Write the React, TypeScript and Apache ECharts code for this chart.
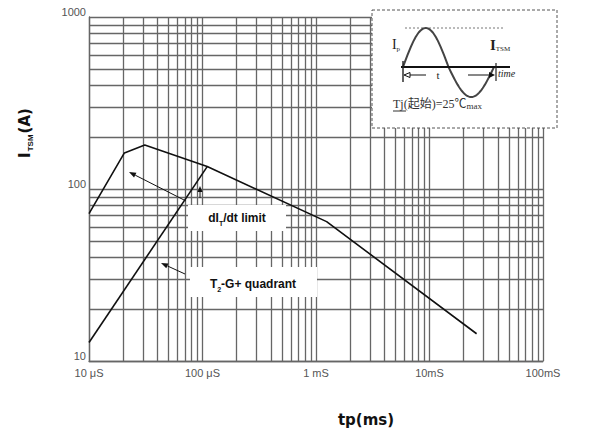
import React, { useEffect, useRef } from "react";
import * as echarts from "echarts";

// Pulse width tp (ms) and surge current ITSM (A)
const tpDidtLimit = [0.01, 0.0205, 0.031, 0.11, 1.24, 26];
const itsmDidtLimit = [72, 162, 180, 135, 64.6, 14.4];
const tpQuadrant = [0.01, 0.11];
const itsmQuadrant = [12.8, 135];
const xTickLabels = ["10 μS", "100 μS", "1 mS", "10mS", "100mS"];
const yTickLabels = ["10", "100", "1000"];
const xDecades = [0.01, 0.1, 1, 10];
const yDecades = [10, 100];
const minorSteps = [1, 2, 3, 4, 5, 6, 7, 8, 9];

const SANS = "Liberation Sans, Arial, sans-serif";
const WIDE = "DejaVu Sans, sans-serif";
const SERIF = "Liberation Serif, Noto Sans CJK SC, serif";

function arrow(x1: number, y1: number, x2: number, y2: number, head = 7, w = 2.6, filled = true) {
  const ang = Math.atan2(y2 - y1, x2 - x1);
  const c = Math.cos(ang), s = Math.sin(ang);
  const bx = x2 - head * c, by = y2 - head * s;
  const px = -s * w, py = c * w;
  return [
    { type: "line", z: 100, shape: { x1, y1, x2: bx, y2: by }, style: { stroke: "#111", lineWidth: 1 } },
    {
      type: "polygon", z: 100,
      shape: { points: [[x2, y2], [bx + px, by + py], [bx - px, by - py]] },
      style: filled ? { fill: "#111" } : { fill: "#fff", stroke: "#111", lineWidth: 1 },
    },
  ];
}

export default function App() {
  const ref = useRef<HTMLDivElement>(null);
  useEffect(() => {
    if (!ref.current) return;
    const chart = echarts.init(ref.current, null, { renderer: "svg" });

    const vLines: any[] = [];
    xDecades.forEach((d) => minorSteps.forEach((k) => vLines.push({ xAxis: d * k })));
    vLines.push({ xAxis: 100 });
    const hLines: any[] = [];
    yDecades.forEach((d) => minorSteps.forEach((k) => hLines.push({ yAxis: d * k })));
    hLines.push({ yAxis: 1000 });

    // inset sine wave (illustration)
    const sinePts: number[][] = [];
    for (let i = 0; i <= 80; i++) {
      const t = i / 80;
      const sv = Math.sin(2 * Math.PI * t);
      sinePts.push([403 + 91 * t, 67 - (sv > 0 ? 39 : 30) * sv]);
    }

    const graphics: any[] = [
      // label boxes
      { type: "rect", z: 90, shape: { x: 188, y: 205, width: 98, height: 26 }, style: { fill: "#fff" } },
      { type: "rect", z: 90, shape: { x: 190, y: 267, width: 127, height: 30 }, style: { fill: "#fff" } },
      {
        type: "text", z: 100, x: 237, y: 218,
        style: {
          text: "{b|dI}{s|T}{b|/dt limit}", align: "center", verticalAlign: "middle",
          rich: {
            b: { fontFamily: SANS, fontWeight: "bold", fontSize: 12, fill: "#111", verticalAlign: "bottom" },
            s: { fontFamily: SANS, fontWeight: "bold", fontSize: 7, fill: "#111", verticalAlign: "bottom", padding: [0, 0, -3, 0] },
          },
        },
      },
      {
        type: "text", z: 100, x: 253, y: 284,
        style: {
          text: "{b|T}{s|2}{b|-G+ quadrant}", align: "center", verticalAlign: "middle",
          rich: {
            b: { fontFamily: SANS, fontWeight: "bold", fontSize: 12, fill: "#111", verticalAlign: "bottom" },
            s: { fontFamily: SANS, fontWeight: "bold", fontSize: 7, fill: "#111", verticalAlign: "bottom", padding: [0, 0, -3, 0] },
          },
        },
      },
      ...arrow(186, 201, 129, 172),
      ...arrow(185, 274, 161, 263),
      ...arrow(200, 198, 200, 186, 6, 2.5),
      // axis titles
      {
        type: "text", z: 100, x: 25, y: 133, rotation: Math.PI / 2,
        style: {
          text: "{b|I}{s|TSM}{b|(A)}", align: "center", verticalAlign: "middle",
          rich: {
            b: { fontFamily: WIDE, fontWeight: "bold", fontSize: 15, fill: "#111", verticalAlign: "bottom" },
            s: { fontFamily: SANS, fontWeight: "bold", fontSize: 8, fill: "#111", verticalAlign: "bottom", padding: [0, 1, -2, 1] },
          },
        },
      },
      {
        type: "text", z: 100, x: 366, y: 420,
        style: { text: "tp(ms)", align: "center", verticalAlign: "middle", fontFamily: WIDE, fontWeight: "bold", fontSize: 15, fill: "#111" },
      },
      // inset
      { type: "rect", z: 95, shape: { x: 372, y: 10, width: 185, height: 118 }, style: { fill: "#fff", stroke: "#555", lineWidth: 1, lineDash: [3, 2] } },
      { type: "line", z: 100, shape: { x1: 405, y1: 28, x2: 505, y2: 28 }, style: { stroke: "#777", lineWidth: 1, lineDash: [2, 2] } },
      { type: "polyline", z: 100, shape: { points: sinePts }, style: { stroke: "#444", lineWidth: 2, fill: null } },
      { type: "line", z: 101, shape: { x1: 401, y1: 67, x2: 510, y2: 67 }, style: { stroke: "#111", lineWidth: 2.2 } },
      { type: "line", z: 101, shape: { x1: 403, y1: 61, x2: 403, y2: 82 }, style: { stroke: "#222", lineWidth: 1.4 } },
      { type: "line", z: 101, shape: { x1: 496, y1: 63, x2: 496, y2: 81 }, style: { stroke: "#222", lineWidth: 1.2 } },
      ...arrow(426, 75, 404, 75, 6, 2.5, false),
      ...arrow(468, 75, 495, 75, 6, 3),
      { type: "text", z: 101, x: 438, y: 75, style: { text: "t", align: "center", verticalAlign: "middle", fontFamily: SERIF, fontSize: 11, fill: "#222" } },
      { type: "text", z: 101, x: 498, y: 73, style: { text: "time", align: "left", verticalAlign: "middle", fontFamily: SERIF, fontStyle: "italic", fontSize: 10, fill: "#222" } },
      {
        type: "text", z: 101, x: 396, y: 44,
        style: {
          text: "{b|I}{s|p}", align: "center", verticalAlign: "middle",
          rich: {
            b: { fontFamily: SERIF, fontSize: 14, fill: "#222", verticalAlign: "bottom" },
            s: { fontFamily: SERIF, fontSize: 7, fill: "#222", verticalAlign: "bottom", padding: [0, 0, -2, 0] },
          },
        },
      },
      {
        type: "text", z: 101, x: 500, y: 45,
        style: {
          text: "{b|I}{s|TSM}", align: "center", verticalAlign: "middle",
          rich: {
            b: { fontFamily: SERIF, fontSize: 15, fontWeight: "bold", fill: "#222", verticalAlign: "bottom" },
            s: { fontFamily: SERIF, fontSize: 7, fill: "#222", verticalAlign: "bottom" },
          },
        },
      },
      {
        type: "text", z: 101, x: 393, y: 104,
        style: {
          text: "{a|Tj(起始)=25℃}{m|max}", align: "left", verticalAlign: "middle",
          rich: {
            a: { fontFamily: SERIF, fontSize: 12, fill: "#333", verticalAlign: "bottom" },
            m: { fontFamily: SERIF, fontSize: 9, fill: "#333", verticalAlign: "bottom" },
          },
        },
      },
      { type: "line", z: 101, shape: { x1: 393, y1: 111, x2: 406, y2: 111 }, style: { stroke: "#333", lineWidth: 1 } },
    ];

    const xLabel = (v: number) => {
      const i = Math.round(Math.log10(v)) + 2;
      return xTickLabels[i] ?? "";
    };
    const yLabel = (v: number) => {
      const i = Math.round(Math.log10(v)) - 1;
      return yTickLabels[i] ?? "";
    };

    chart.setOption({
      animation: false,
      backgroundColor: "#fff",
      grid: { left: 89, top: 17, right: 46, bottom: 76, containLabel: false },
      xAxis: {
        type: "log", logBase: 10, min: 0.01, max: 100,
        axisLine: { show: true, lineStyle: { color: "#666", width: 1.3 } },
        axisTick: { show: false },
        splitLine: { show: false },
        minorTick: { show: false },
        axisLabel: { formatter: xLabel, fontFamily: SANS, fontSize: 11, color: "#555", margin: 6, showMinLabel: true, showMaxLabel: true },
      },
      yAxis: {
        type: "log", logBase: 10, min: 10, max: 1000,
        axisLine: { show: true, lineStyle: { color: "#666", width: 1.3 } },
        axisTick: { show: false },
        splitLine: { show: false },
        minorTick: { show: false },
        axisLabel: { formatter: yLabel, fontFamily: SANS, fontSize: 11, color: "#555", margin: 3, verticalAlign: "bottom" },
      },
      graphic: { elements: graphics },
      series: [
        {
          type: "line", z: 1, silent: true, showSymbol: false,
          data: [[0.01, 10]],
          lineStyle: { width: 0 },
          markLine: {
            silent: true, symbol: ["none", "none"], animation: false,
            label: { show: false },
            lineStyle: { color: "#666", width: 1.3, type: "solid" },
            emphasis: { disabled: true },
            data: [...vLines, ...hLines],
          },
        },
        {
          name: "dIT/dt limit", type: "line", z: 5, showSymbol: false, silent: true,
          data: tpDidtLimit.map((t, i) => [t, itsmDidtLimit[i]]),
          lineStyle: { color: "#111", width: 1.6 },
        },
        {
          name: "T2-G+ quadrant", type: "line", z: 5, showSymbol: false, silent: true,
          data: tpQuadrant.map((t, i) => [t, itsmQuadrant[i]]),
          lineStyle: { color: "#111", width: 1.6 },
        },
      ],
    });
    return () => chart.dispose();
  }, []);
  return <div ref={ref} style={{ position: "fixed", left: 0, top: 0, width: 589, height: 437 }} />;
}
